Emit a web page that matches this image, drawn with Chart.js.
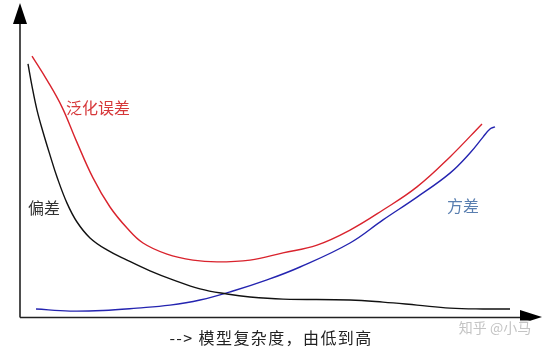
<!DOCTYPE html>
<html>
<head>
<meta charset="utf-8">
<script src="https://cdn.jsdelivr.net/npm/chart.js@4"></script>
<style>
html,body{margin:0;padding:0;background:#fff;}
#c{display:block;}
</style>
</head>
<body>
<canvas id="c" width="554" height="352"></canvas>
<script>
// ---- data (x: model complexity, y: error) ----
const biasX = [0.16,0.24,0.34,0.46,0.60,0.74,0.94,1.14,1.40,1.74,2.14,2.60,3.06,3.60,4.14,4.60,5.26,6.60,7.26,7.94,8.60,9.26,9.80];
const biasY = [8.47,7.73,6.93,6.20,5.43,4.70,3.83,3.20,2.67,2.27,1.93,1.57,1.27,0.97,0.80,0.70,0.63,0.60,0.53,0.43,0.33,0.30,0.30];
const genX  = [0.24,0.54,0.84,1.12,1.46,1.80,2.14,2.46,2.94,3.46,3.94,4.60,5.26,5.94,6.60,7.26,7.94,8.60,9.24];
const genY  = [8.73,7.93,7.03,5.93,4.67,3.70,3.00,2.50,2.13,1.93,1.87,1.93,2.17,2.43,2.93,3.60,4.37,5.37,6.47];
const varX  = [0.32,1.00,1.66,2.34,3.00,3.60,4.26,4.94,5.60,6.60,7.26,7.94,8.60,9.00,9.26,9.40,9.50];
const varY  = [0.30,0.23,0.25,0.33,0.43,0.60,0.90,1.27,1.70,2.50,3.27,4.03,4.83,5.50,6.03,6.30,6.37];
const seriesNames = ['偏差','泛化误差','方差'];
const xAxisTitle = '--> 模型复杂度，由低到高';
const watermark = '知乎 @小马';
// label anchors in data units
const labelPos = [[0.48,3.67],[1.56,7.0],[8.86,3.73]];

const pts = (xs, ys) => xs.map((x, i) => ({x, y: ys[i]}));
const CJK = '"Noto Sans CJK SC", "Noto Sans", sans-serif';

const axesPlugin = {
  id: 'axes',
  beforeDatasetsDraw(chart) {
    const {ctx, scales:{x, y}} = chart;
    const x0 = x.getPixelForValue(0), y0 = y.getPixelForValue(0);
    const xEnd = x.getPixelForValue(x.max), yEnd = y.getPixelForValue(y.max);
    ctx.save();
    ctx.strokeStyle = '#222';
    ctx.fillStyle = '#000';
    ctx.lineWidth = 1.6;
    ctx.beginPath();
    ctx.moveTo(x0, yEnd + 10); ctx.lineTo(x0, y0 - 0.5);
    ctx.moveTo(x0, y0 - 0.5); ctx.lineTo(xEnd - 10, y0 - 0.5);
    ctx.stroke();
    // y arrow
    ctx.beginPath();
    ctx.moveTo(x0, yEnd);
    ctx.lineTo(x0 - 7, yEnd + 21);
    ctx.lineTo(x0 + 7, yEnd + 21);
    ctx.closePath(); ctx.fill();
    // x arrow
    ctx.beginPath();
    ctx.moveTo(xEnd, y0 - 1);
    ctx.lineTo(xEnd - 22, y0 - 8);
    ctx.lineTo(xEnd - 22, y0 + 6);
    ctx.closePath(); ctx.fill();
    ctx.restore();
  },
  afterDraw(chart) {
    const {ctx, scales:{x, y}} = chart;
    ctx.save();
    ctx.textAlign = 'center';
    ctx.textBaseline = 'middle';
    const cols = ['#333333','#d6383a','#5a7fb0'];
    seriesNames.forEach((n, i) => {
      ctx.font = '16px ' + CJK;
      ctx.fillStyle = cols[i];
      ctx.fillText(n, x.getPixelForValue(labelPos[i][0]), y.getPixelForValue(labelPos[i][1]));
    });
    ctx.font = '16px ' + CJK;
    ctx.fillStyle = '#222';
    try { ctx.letterSpacing = '1.4px'; } catch (e) {}
    ctx.fillText(xAxisTitle, 271, 338);
    try { ctx.letterSpacing = '0px'; } catch (e) {}
    ctx.font = '14px ' + CJK;
    ctx.lineWidth = 3;
    ctx.strokeStyle = 'rgba(255,255,255,0.9)';
    ctx.strokeText(watermark, 495, 328);
    ctx.fillStyle = '#c4c4c4';
    ctx.fillText(watermark, 495, 328);
    ctx.restore();
  }
};

new Chart(document.getElementById('c'), {
  type: 'line',
  data: {
    datasets: [
      {label: seriesNames[0], data: pts(biasX, biasY), borderColor: '#111111'},
      {label: seriesNames[1], data: pts(genX, genY), borderColor: '#d9232d'},
      {label: seriesNames[2], data: pts(varX, varY), borderColor: '#2424b0'}
    ]
  },
  options: {
    responsive: false,
    devicePixelRatio: 1,
    animation: false,
    layout: {padding: {left: 20, right: 12, top: 3, bottom: 34}},
    elements: {
      point: {radius: 0},
      line: {borderWidth: 1.4, tension: 0.4, fill: false}
    },
    scales: {
      x: {type: 'linear', min: 0, max: 10.44, display: false},
      y: {type: 'linear', min: 0, max: 10.5, display: false}
    },
    plugins: {legend: {display: false}, tooltip: {enabled: false}}
  },
  plugins: [axesPlugin]
});
</script>
</body>
</html>
